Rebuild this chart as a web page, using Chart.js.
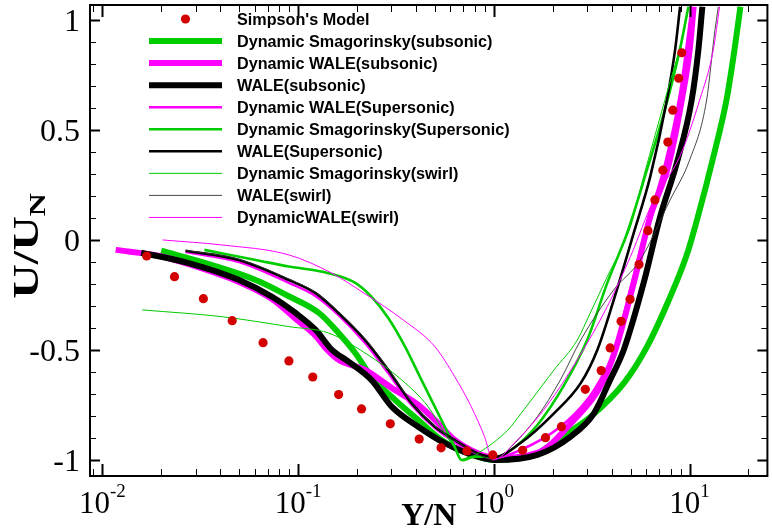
<!DOCTYPE html>
<html>
<head>
<meta charset="utf-8">
<script src="https://cdn.jsdelivr.net/npm/chart.js@4.4.0/dist/chart.umd.min.js"></script>
<style>
  html, body { margin: 0; padding: 0; background: #ffffff; overflow: hidden; }
  canvas { display: block; }
</style>
</head>
<body>
<canvas id="c" width="772" height="531"></canvas>
<script>
// Velocity profiles U/U_N against Y/N (log axis)

// Simpson's model (reference points)
const simpsonY = [0.01685, 0.02338, 0.03283, 0.04608, 0.06625, 0.0898, 0.1189, 0.1612, 0.211, 0.2961, 0.4158, 0.5378, 0.7291, 0.9884, 1.404, 1.837, 2.216, 2.935, 3.538, 3.932, 4.471, 4.968, 5.52, 6.133, 6.655, 7.308, 7.749, 8.216, 8.814, 9.129];
const simpsonU = [-0.073, -0.167, -0.267, -0.367, -0.467, -0.55, -0.623, -0.703, -0.768, -0.836, -0.905, -0.945, -0.959, -0.977, -0.956, -0.899, -0.849, -0.679, -0.594, -0.491, -0.370, -0.270, -0.112, 0.042, 0.182, 0.317, 0.445, 0.590, 0.735, 0.851];

// Dynamic Smagorinsky (subsonic)
const dsSubY = [0.02, 0.0339, 0.0608, 0.0898, 0.128, 0.161, 0.196, 0.237, 0.313, 0.411, 0.54, 0.738, 1.01, 1.67, 2.11, 3.11, 4.63, 6.06, 7.84, 9.68, 11.27, 13.12, 15.45, 16.97, 18.2];
const dsSubU = [-0.049, -0.106, -0.182, -0.256, -0.332, -0.423, -0.514, -0.621, -0.727, -0.818, -0.909, -0.970, -1.0, -0.970, -0.909, -0.805, -0.65, -0.486, -0.273, -0.068, 0.136, 0.364, 0.636, 0.864, 1.06];

// Dynamic WALE (subsonic)
const dwSubY = [0.0117, 0.0196, 0.0279, 0.05, 0.0736, 0.101, 0.123, 0.138, 0.161, 0.22, 0.301, 0.411, 0.5, 0.631, 0.829, 1.01, 1.67, 2.57, 3.5, 4.18, 5.19, 6.3, 7.84, 9.13, 10.02, 10.5];
const dwSubU = [-0.045, -0.073, -0.111, -0.191, -0.268, -0.371, -0.436, -0.491, -0.545, -0.591, -0.673, -0.75, -0.818, -0.909, -0.970, -0.991, -0.968, -0.818, -0.667, -0.5, -0.195, 0.106, 0.345, 0.636, 0.864, 1.06];

// WALE (subsonic)
const wSubY = [0.0158, 0.0279, 0.05, 0.0736, 0.0971, 0.123, 0.149, 0.181, 0.237, 0.301, 0.411, 0.562, 0.738, 1.01, 1.67, 2.47, 3.25, 3.93, 4.61, 5.83, 7.08, 8.61, 10.26, 11.1, 11.63];
const wSubU = [-0.058, -0.106, -0.182, -0.258, -0.332, -0.409, -0.5, -0.553, -0.636, -0.758, -0.849, -0.924, -0.970, -1.0, -0.977, -0.894, -0.788, -0.636, -0.5, -0.195, 0.106, 0.35, 0.636, 0.864, 1.06];

// Dynamic WALE (supersonic)
const dwSupY = [0.0266, 0.05, 0.0898, 0.123, 0.161, 0.22, 0.289, 0.38, 0.5, 0.631, 0.829, 1.01, 1.37, 2.19, 3.0, 3.65, 4.1, 4.97, 6.06, 7.48, 8.92, 9.91, 10.26];
const dwSupU = [-0.055, -0.1, -0.195, -0.255, -0.341, -0.468, -0.605, -0.75, -0.855, -0.918, -0.973, -0.991, -0.955, -0.849, -0.727, -0.606, -0.515, -0.227, 0.068, 0.341, 0.659, 0.955, 1.06];

// Dynamic Smagorinsky (supersonic)
const dsSupY = [0.0332, 0.0608, 0.0898, 0.143, 0.196, 0.237, 0.289, 0.352, 0.411, 0.48, 0.562, 0.631, 0.682, 0.798, 1.01, 1.18, 1.67, 2.29, 3.0, 3.8, 4.8, 6.06, 7.48, 8.92, 9.87];
const dsSupU = [-0.045, -0.091, -0.121, -0.151, -0.195, -0.258, -0.355, -0.485, -0.606, -0.727, -0.849, -0.94, -1.0, -0.985, -0.986, -0.964, -0.841, -0.659, -0.455, -0.195, 0.032, 0.318, 0.591, 0.864, 1.06];

// WALE (supersonic)
const wSupY = [0.0266, 0.05, 0.0898, 0.123, 0.161, 0.22, 0.289, 0.38, 0.5, 0.631, 0.829, 1.01, 1.37, 2.03, 2.78, 3.38, 4.1, 5.19, 6.3, 7.66, 8.44, 8.95];
const wSupU = [-0.049, -0.091, -0.182, -0.242, -0.332, -0.455, -0.591, -0.742, -0.849, -0.909, -0.970, -0.986, -0.923, -0.788, -0.651, -0.5, -0.273, 0.032, 0.288, 0.636, 0.864, 1.06];

// Dynamic Smagorinsky (swirl)
const dsSwY = [0.016, 0.041, 0.0898, 0.143, 0.22, 0.338, 0.462, 0.562, 0.656, 0.696, 0.829, 1.18, 1.38, 2.03, 2.67, 3.11, 3.8, 4.99, 5.83, 7.66, 9.31, 9.87];
const dsSwU = [-0.318, -0.349, -0.394, -0.423, -0.514, -0.636, -0.758, -0.879, -0.970, -1.005, -0.970, -0.864, -0.788, -0.591, -0.455, -0.332, -0.167, 0.06, 0.288, 0.668, 0.941, 1.06];

// WALE (swirl)
const wSwY = [0.0266, 0.05, 0.0898, 0.123, 0.161, 0.22, 0.289, 0.38, 0.5, 0.631, 0.829, 1.01, 1.18, 1.67, 2.19, 2.78, 4.1, 5.6, 7.96, 10.02, 12.23, 13.43, 14.03];
const wSwU = [-0.047, -0.088, -0.178, -0.238, -0.327, -0.45, -0.585, -0.738, -0.846, -0.91, -0.975, -1.0, -0.955, -0.803, -0.636, -0.455, -0.227, -0.091, 0.182, 0.364, 0.636, 0.941, 1.06];

// Dynamic WALE (swirl)
const dwSwY = [0.0203, 0.0411, 0.0898, 0.148, 0.22, 0.345, 0.5, 0.631, 0.767, 0.897, 0.988, 1.32, 1.88, 2.67, 3.8, 4.99, 6.56, 8.92, 11.27, 13.23, 14.24];
const dwSwU = [0.0, -0.023, -0.068, -0.15, -0.245, -0.364, -0.485, -0.621, -0.758, -0.894, -1.0, -0.909, -0.75, -0.545, -0.303, -0.076, 0.182, 0.379, 0.636, 0.864, 1.06];

// Axis tick labels
const xTickPowers = [-2, -1, 0, 1];
const yTickValues = [1, 0.5, 0, -0.5, -1];
const yTickLabels = ['1', '0.5', '0', '-0.5', '-1'];

const GREEN = '#00cc00';
const MAGENTA = '#ff00ff';
const BLACK = '#000000';
const RED = '#d20000';

function pts(xs, ys) { return xs.map((x, i) => ({ x: x, y: ys[i] })); }

function curve(label, xs, ys, color, width, order) {
  return {
    label: label,
    data: pts(xs, ys),
    borderColor: color,
    backgroundColor: color,
    borderWidth: width,
    pointRadius: 0,
    cubicInterpolationMode: 'monotone',
    fill: false,
    clip: 0,
    order: order
  };
}

const datasets = [
  {
    label: "Simpson's Model",
    data: pts(simpsonY, simpsonU),
    showLine: false,
    pointRadius: 4.6,
    pointBackgroundColor: RED,
    pointBorderWidth: 0,
    borderColor: RED,
    backgroundColor: RED,
    order: 0
  },
  curve('Dynamic Smagorinsky(subsonic)', dsSubY, dsSubU, GREEN, 6, 9),
  curve('Dynamic WALE(subsonic)', dwSubY, dwSubU, MAGENTA, 6, 8),
  curve('WALE(subsonic)', wSubY, wSubU, BLACK, 6, 7),
  curve('Dynamic WALE(Supersonic)', dwSupY, dwSupU, MAGENTA, 2.6, 6),
  curve('Dynamic Smagorinsky(Supersonic)', dsSupY, dsSupU, GREEN, 2.6, 5),
  curve('WALE(Supersonic)', wSupY, wSupU, BLACK, 2.6, 4),
  curve('Dynamic Smagorinsky(swirl)', dsSwY, dsSwU, GREEN, 1, 3),
  curve('WALE(swirl)', wSwY, wSwU, '#333333', 0.9, 2),
  curve('DynamicWALE(swirl)', dwSwY, dwSwU, MAGENTA, 1, 1)
];

// Frame, inward ticks, tick labels, axis titles and the legend
const decorations = {
  id: 'decorations',
  afterDraw(chart) {
    const ctx = chart.ctx;
    const xs = chart.scales.x, ys = chart.scales.y;
    const a = chart.chartArea;
    ctx.save();
    ctx.strokeStyle = '#000';
    ctx.fillStyle = '#000';

    // y ticks on left and right
    for (let i = -10; i <= 10; i++) {
      const v = i / 10;
      const py = Math.round(ys.getPixelForValue(v)) + 0.5;
      const major = (i % 5 === 0);
      const len = major ? 10 : 6;
      ctx.lineWidth = major ? 2 : 1;
      ctx.beginPath();
      ctx.moveTo(a.left, py); ctx.lineTo(a.left + len, py);
      ctx.moveTo(a.right, py); ctx.lineTo(a.right - len, py);
      ctx.stroke();
    }

    // x ticks (log decades) on bottom and top
    for (let k = -3; k <= 1; k++) {
      for (let m = 1; m <= 9; m++) {
        const v = m * Math.pow(10, k);
        if (v < xs.min || v > xs.max) continue;
        const px = Math.round(xs.getPixelForValue(v)) + 0.5;
        const major = (m === 1);
        const len = major ? 12 : 7;
        ctx.lineWidth = major ? 2 : 1;
        ctx.beginPath();
        ctx.moveTo(px, a.bottom); ctx.lineTo(px, a.bottom - len);
        ctx.moveTo(px, a.top); ctx.lineTo(px, a.top + len);
        ctx.stroke();
      }
    }

    // frame
    ctx.lineWidth = 2;
    ctx.strokeRect(a.left, a.top, a.right - a.left, a.bottom - a.top);

    // y tick labels
    ctx.font = '32px "Liberation Serif"';
    ctx.textAlign = 'right';
    ctx.textBaseline = 'alphabetic';
    yTickValues.forEach((v, i) => {
      const py = ys.getPixelForValue(v);
      ctx.fillText(yTickLabels[i], a.left - 10, py + 11);
    });

    // x tick labels: 10 with superscript exponent
    const baseFont = '31px "Liberation Serif"';
    const supFont = '19px "Liberation Serif"';
    ctx.textAlign = 'left';
    xTickPowers.forEach(p => {
      const px = xs.getPixelForValue(Math.pow(10, p));
      ctx.font = baseFont;
      const w1 = ctx.measureText('10').width;
      ctx.font = supFont;
      const expText = String(p);
      const w2 = ctx.measureText(expText).width;
      const x0 = px - (w1 + w2) / 2;
      ctx.font = baseFont;
      ctx.fillText('10', x0, a.bottom + 37);
      ctx.font = supFont;
      ctx.fillText(expText, x0 + w1, a.bottom + 21);
    });

    // x axis title
    ctx.font = 'bold 32px "Liberation Serif"';
    ctx.textAlign = 'center';
    ctx.fillText('Y/N', (a.left + a.right) / 2, 525);

    // y axis title U/U_N, rotated and slightly stretched along the text
    ctx.save();
    ctx.translate(38, 246);
    ctx.rotate(-Math.PI / 2);
    ctx.scale(1.33, 1);
    ctx.font = 'bold 36px "Liberation Serif"';
    const wMain = ctx.measureText('U/U').width;
    ctx.font = 'bold 24px "Liberation Serif"';
    const wSub = ctx.measureText('N').width;
    const sx = -(wMain + wSub) / 2;
    ctx.textAlign = 'left';
    ctx.font = 'bold 36px "Liberation Serif"';
    ctx.fillText('U/U', sx, 0);
    ctx.font = 'bold 24px "Liberation Serif"';
    ctx.fillText('N', sx + wMain, 7);
    ctx.restore();

    // legend
    ctx.font = 'bold 16.2px "Liberation Sans"';
    ctx.textAlign = 'left';
    const lx0 = 149, lx1 = 222, tx = 237, rowTop = 19, rowStep = 22.05;
    chart.data.datasets.forEach((ds, i) => {
      const ry = rowTop + i * rowStep;
      if (ds.showLine === false) {
        ctx.fillStyle = ds.pointBackgroundColor;
        ctx.beginPath();
        ctx.arc((lx0 + lx1) / 2, ry, ds.pointRadius, 0, Math.PI * 2);
        ctx.fill();
      } else {
        ctx.strokeStyle = ds.borderColor;
        ctx.lineWidth = ds.borderWidth;
        ctx.beginPath();
        ctx.moveTo(lx0, ry); ctx.lineTo(lx1, ry);
        ctx.stroke();
      }
      ctx.fillStyle = '#000';
      ctx.fillText(ds.label, tx, ry + 5.5);
    });

    ctx.restore();
  }
};

new Chart(document.getElementById('c'), {
  type: 'line',
  data: { datasets: datasets },
  options: {
    responsive: false,
    animation: false,
    devicePixelRatio: 1,
    layout: { padding: { left: 90, top: 5, right: 1, bottom: 55 } },
    plugins: { legend: { display: false }, tooltip: { enabled: false } },
    scales: {
      x: { type: 'logarithmic', min: 0.00865, max: 25, display: false },
      y: { type: 'linear', min: -1.073, max: 1.068, display: false }
    }
  },
  plugins: [decorations]
});
</script>
</body>
</html>
